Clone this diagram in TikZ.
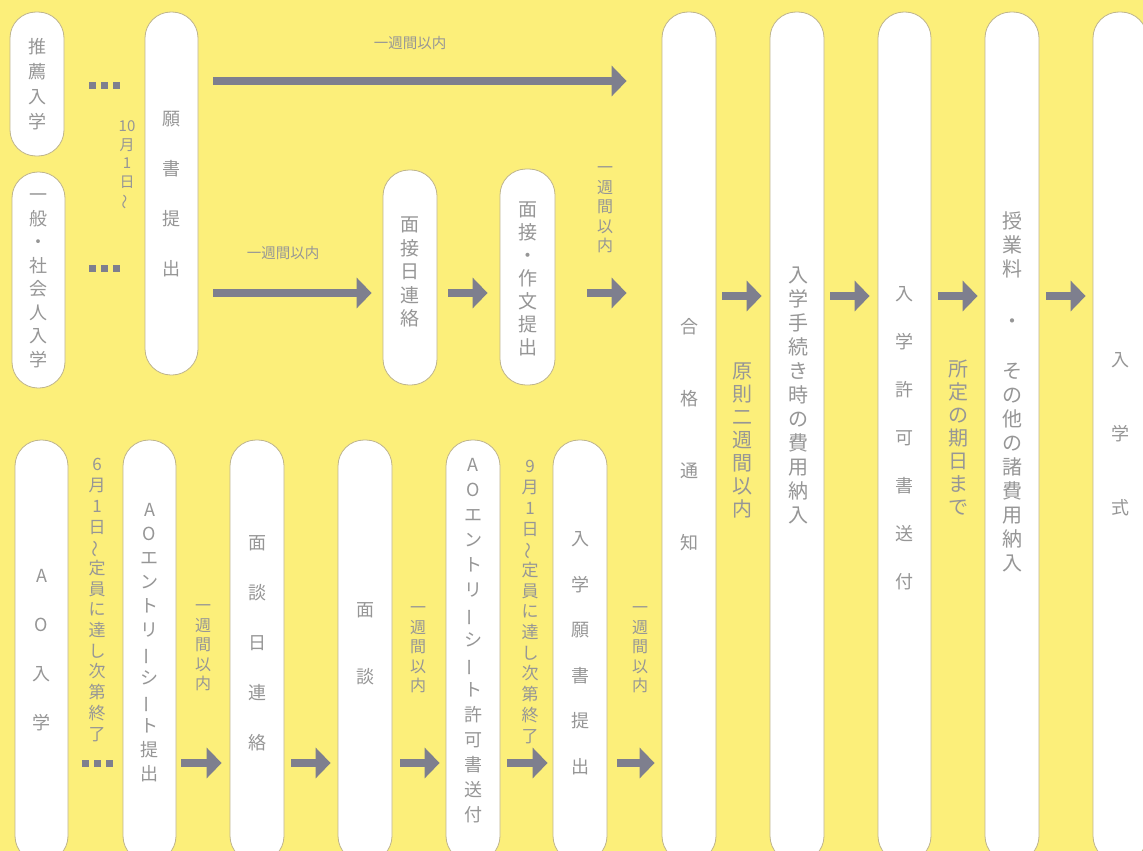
\documentclass[tikz,border=0pt]{standalone}
\usepackage{fontspec}
\usepackage{graphicx}
\newfontfamily\jp{Noto Sans CJK JP}
\usetikzlibrary{arrows.meta}
\definecolor{bgc}{RGB}{252,239,122}
\definecolor{arrc}{RGB}{126,127,142}
\definecolor{txtc}{RGB}{150,150,150}
\definecolor{edgec}{RGB}{190,180,140}
\newcommand{\jpbar}{\rotatebox[origin=c]{90}{ー}}
\newcommand{\jpwave}{\rotatebox[origin=c]{90}{〜}}
\newcommand{\sqdots}{\textcolor{arrc}{\rule{7pt}{7pt}\hspace{5pt}\rule{7pt}{7pt}\hspace{5pt}\rule{7pt}{7pt}}}
\tikzset{
  pill/.style={draw=edgec, fill=white, line width=0.8pt, rounded corners=26pt,
    minimum width=54pt, inner sep=0pt},
  vt/.style 2 args={text=txtc, align=center, inner sep=0pt,
    font=\jp\fontsize{#1}{#2}\selectfont},
  flow/.style={draw=arrc, line width=8pt, -{Triangle[length=15pt,width=30pt]}},
  sqd/.style={inner sep=0pt}
}
\begin{document}
\begin{tikzpicture}[x=1pt,y=-1pt]
\useasboundingbox (0,0) rectangle (1143,851);
\fill[bgc] (0,0) rectangle (1143,851);
\begin{scope}
\clip (0,0) rectangle (1143,851);
% row levels
\coordinate (r1) at (0,81);
\coordinate (r2) at (0,293);
\coordinate (r3) at (0,296);
\coordinate (r4) at (0,763);

% ---------- pills ----------
\node[pill, minimum height=144pt] (suisen) at (37,84) {};
\node[pill, minimum width=53pt, minimum height=216pt] (ippan) at (38.5,280) {};
\node[pill, minimum width=53pt, minimum height=363pt] (gansho) at (171.5,193.5) {};
\node[pill, minimum height=215pt] (mensetsubi) at (410,277.5) {};
\node[pill, minimum width=55pt, minimum height=216pt] (mensakubun) at (527.5,277) {};

\node[pill, minimum height=850pt] (gokaku) at (689,437) {};
\node[pill, minimum height=850pt] (tetsuzuki) at (797,437) {};
\node[pill, minimum width=53pt, minimum height=850pt] (kyoka) at (904.5,437) {};
\node[pill, minimum height=850pt] (jugyo) at (1012,437) {};
\node[pill, minimum height=850pt] (shiki) at (1120,437) {};

\node[pill, minimum width=53pt, minimum height=422pt] (ao) at (41.5,651) {};
\node[pill, minimum width=53pt, minimum height=422pt] (aoentry) at (149.5,651) {};
\node[pill, minimum height=422pt] (mendanbi) at (257,651) {};
\node[pill, minimum height=422pt] (mendan) at (365,651) {};
\node[pill, minimum height=422pt] (aokyoka) at (473,651) {};
\node[pill, minimum height=422pt] (nyugan) at (580,651) {};

% ---------- pill texts ----------
\node[vt={18}{25}] (t-suisen) at (37,84) {推\\薦\\入\\学};
\node[vt={18}{23.5}] (t-ippan) at (38.5,281) {一\\般\\・\\社\\会\\人\\入\\学};
\node[vt={18}{50}] (t-gansho) at (171.5,194) {願\\書\\提\\出};
\node[vt={19}{23.5}] (t-mensetsubi) at (410,272) {面\\接\\日\\連\\絡};
\node[vt={19}{23}] (t-mensakubun) at (527.5,279) {面\\接\\・\\作\\文\\提\\出};

\node[vt={18}{72}] (t-gokaku) at (689,435) {合\\格\\通\\知};
\node[vt={20}{24}] (t-tetsuzuki) at (798,395) {入\\学\\手\\続\\き\\時\\の\\費\\用\\納\\入};
\node[vt={18}{48}] (t-kyoka) at (904.5,438) {入\\学\\許\\可\\書\\送\\付};
\node[vt={20}{24}] (t-jugyo) at (1012,392) {授\\業\\料\\[28pt]・\\[26pt]そ\\の\\他\\の\\諸\\費\\用\\納\\入};
\node[vt={18}{74}] (t-shiki) at (1120,434) {入\\学\\式};

\node[vt={18}{49}] (t-ao) at (41.5,650) {A\\O\\入\\学};
\node[vt={18}{24}] (t-aoentry) at (149.5,643) {A\\O\\エ\\ン\\ト\\リ\\\jpbar\\シ\\\jpbar\\ト\\提\\出};
\node[vt={18}{50}] (t-mendanbi) at (257,643) {面\\談\\日\\連\\絡};
\node[vt={18}{67}] (t-mendan) at (365,643.5) {面\\談};
\node[vt={18}{25}] (t-aokyoka) at (473,641) {A\\O\\エ\\ン\\ト\\リ\\\jpbar\\シ\\\jpbar\\ト\\許\\可\\書\\送\\付};
\node[vt={18}{45.5}] (t-nyugan) at (580,653) {入\\学\\願\\書\\提\\出};

% ---------- labels on the background ----------
\node[vt={15}{18.5}] (l-date1) at (127,165) {10\\月\\1\\日\\\jpwave};
\node[vt={14.5}{16}] (l-w1) at (410,43) {一週間以内};
\node[vt={14.5}{16}] (l-w2) at (283,253) {一週間以内};
\node[vt={16}{19.5}] (l-w3) at (605,210) {一\\週\\間\\以\\内};
\node[vt={20}{23}] (l-gensoku) at (742,440) {原\\則\\二\\週\\間\\以\\内};
\node[vt={20}{23}] (l-shotei) at (958,438) {所\\定\\の\\期\\日\\ま\\で};
\node[vt={17}{20.7}] (l-date2) at (97,600) {6\\月\\1\\日\\\jpwave\\定\\員\\に\\達\\し\\次\\第\\終\\了};
\node[vt={16}{19.5}] (l-w4) at (203,648) {一\\週\\間\\以\\内};
\node[vt={16}{19.5}] (l-w5) at (418,650) {一\\週\\間\\以\\内};
\node[vt={17}{20.7}] (l-date3) at (530,602) {9\\月\\1\\日\\\jpwave\\定\\員\\に\\達\\し\\次\\第\\終\\了};
\node[vt={16}{19.5}] (l-w6) at (640,650) {一\\週\\間\\以\\内};

% ---------- square dots ----------
\node[sqd] (d1) at (104,85) {\sqdots};
\node[sqd] (d2) at (104,268) {\sqdots};
\node[sqd] (d3) at (97,763) {\sqdots};

% ---------- arrows ----------
\draw[flow, shorten <=15pt, shorten >=35pt] (gansho.east |- r1) -- (gokaku.west |- r1);
\draw[flow, shorten <=15pt, shorten >=11pt] (gansho.east |- r2) -- (mensetsubi.west |- r2);
\draw[flow, shorten <=11pt, shorten >=12pt] (mensetsubi.east |- r2) -- (mensakubun.west |- r2);
\draw[flow, shorten <=32pt, shorten >=35pt] (mensakubun.east |- r2) -- (gokaku.west |- r2);

\draw[flow, shorten <=6pt, shorten >=8pt] (gokaku.east |- r3) -- (tetsuzuki.west |- r3);
\draw[flow, shorten <=6pt, shorten >=8pt] (tetsuzuki.east |- r3) -- (kyoka.west |- r3);
\draw[flow, shorten <=7pt, shorten >=7pt] (kyoka.east |- r3) -- (jugyo.west |- r3);
\draw[flow, shorten <=7pt, shorten >=7pt] (jugyo.east |- r3) -- (shiki.west |- r3);

\draw[flow, shorten <=5pt, shorten >=8pt] (aoentry.east |- r4) -- (mendanbi.west |- r4);
\draw[flow, shorten <=7pt, shorten >=7pt] (mendanbi.east |- r4) -- (mendan.west |- r4);
\draw[flow, shorten <=8pt, shorten >=6pt] (mendan.east |- r4) -- (aokyoka.west |- r4);
\draw[flow, shorten <=7pt, shorten >=5pt] (aokyoka.east |- r4) -- (nyugan.west |- r4);
\draw[flow, shorten <=10pt, shorten >=7pt] (nyugan.east |- r4) -- (gokaku.west |- r4);
\end{scope}
\end{tikzpicture}
\end{document}
